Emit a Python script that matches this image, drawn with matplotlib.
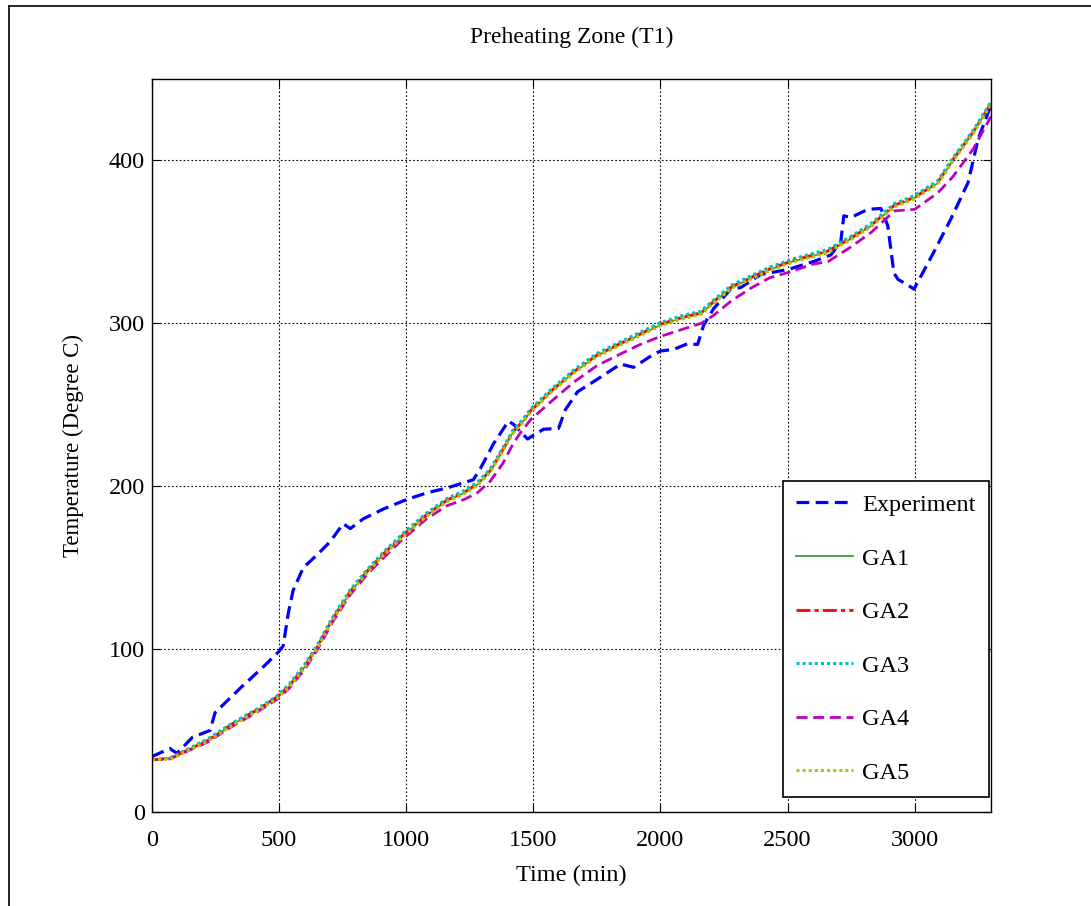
"""
Preheating zone (T1): measured temperature vs. five GA-tuned model runs.
Writes out.png with a non-interactive backend.
"""

import matplotlib

matplotlib.use("Agg")  # headless-safe backend
import matplotlib.pyplot as plt
from matplotlib.lines import Line2D

plt.rcParams.update({
    "font.family": ["Liberation Serif", "DejaVu Serif"],
    "font.size": 17.5,
    "axes.linewidth": 1.0,
})

# measured curve (min, degC)
exp_time = [0, 70, 98, 160, 228, 248, 347, 437, 496, 516, 536, 555, 595, 650, 701, 752,
            780, 831, 910, 1004, 1083, 1162, 1264, 1292, 1343, 1402, 1422, 1477, 1540,
            1599, 1626, 1674, 1745, 1843, 1894, 1973, 2000, 2052, 2107, 2146, 2170, 2209,
            2276, 2316, 2394, 2501, 2603, 2670, 2709, 2721, 2749, 2816, 2867, 2894, 2918,
            2934, 2973, 2997, 3076, 3142, 3210, 3249, 3300]
exp_temp = [34, 39, 36, 46, 50, 61, 76, 89, 98, 102, 122, 136, 150, 158, 166, 177,
            174, 180, 186, 192, 196, 199, 204, 211, 226, 240, 238, 229, 235,
            235.5, 247, 258, 265, 275, 273, 281, 283, 284, 287.5, 287, 299, 309,
            321, 322, 330, 333, 338, 342, 350, 366, 365, 370, 370.5, 360, 331,
            327, 323.5, 321, 344, 364, 386.5, 413, 434]

# simulated runs share one time grid
ga_time = [0, 70, 120, 220, 320, 410, 490, 540, 600, 650, 710, 780, 850, 910, 990, 1080,
           1160, 1230, 1280, 1330, 1380, 1420, 1450, 1490, 1570, 1660, 1750, 1840, 1920,
           2000, 2080, 2160, 2210, 2280, 2360, 2430, 2520, 2590, 2660, 2750, 2830, 2920,
           3000, 3090, 3150, 3230, 3300]
ga1 = [32, 33, 36.5, 44, 54, 62, 70, 77, 89, 101, 118, 135, 148, 158, 170, 182,
       191, 196, 201, 209, 222, 233, 238, 246, 258, 270, 280, 287, 293,
       299, 303, 306, 313, 322, 328, 333, 338, 341, 344, 352, 360, 372,
       377, 386, 400, 417, 435]
ga2 = [32, 33, 36.5, 44, 54.5, 62.5, 70.5, 77.5, 89.5, 101.5, 118.5, 135.5, 148.5, 158.5, 170.5, 182.5,
       191.5, 196.5, 201.5, 209.5, 222.5, 233.5, 238.5, 246.5, 258.5, 270.5, 280.5, 287.5, 293.5,
       299.5, 303.5, 306.5, 313.5, 322.5, 328.5, 333.5, 338.5, 341.5, 344.5, 352.5, 360.5, 372.5,
       377.5, 386.5, 400.5, 417.5, 435]
ga3 = [32, 33, 37, 45, 55, 63, 71, 78.5, 90.5, 102.5, 119.5, 136.5, 149.5, 159.5, 171.5, 183.5,
       192.5, 197.5, 202.5, 210.5, 223.5, 234.5, 239.5, 247.5, 259.5, 271.5, 281.5, 288.5, 294.5,
       300.5, 304.5, 307.5, 314.5, 323.5, 329.5, 334.5, 339.5, 342.5, 345.5, 353.5, 361.5, 373.5,
       378.5, 387.5, 401.5, 418.5, 436]
ga4 = [32, 32.5, 36, 43, 53, 61, 69, 76, 87.5, 99.5, 116.5, 133.5, 146.5, 156, 168, 180,
       188, 192, 196, 203, 214, 226, 233, 241, 252, 264, 274, 281, 287,
       292, 296, 300, 305, 314, 322, 328, 332, 336, 338, 347, 356, 369,
       370, 380, 390, 407, 427]
ga5 = [32, 32.5, 36, 43.5, 53.5, 61.5, 69.5, 76.5, 88.5, 100.5, 117.5, 134.5, 147.5, 157.5, 169.5, 181.5,
       190.5, 195.5, 200.5, 208.5, 221.5, 232.5, 237.5, 245.5, 257.5, 269.5, 279.5, 286.5, 292.5,
       298.5, 302.5, 305.5, 312.5, 321.5, 327.5, 332.5, 337.5, 340.5, 343.5, 351.5, 359.5, 371.5,
       376.5, 385.5, 399.5, 416.5, 434]

fig = plt.figure(figsize=(10.91, 9.06), dpi=100)
ax = fig.add_axes([152 / 1091, 1 - 812 / 906, 839 / 1091, 733 / 906])

ax.plot(exp_time, exp_temp, color="#0000ff", linestyle=(0, (4, 2)), linewidth=2.3, label="Experiment")
ax.plot(ga_time, ga1, color="#3c9a3c", linestyle="-", linewidth=1.3, label="GA1")
ax.plot(ga_time, ga2, color="#ff0000", linestyle=(0, (5, 1.5, 1.5, 1.5)), linewidth=2.0, label="GA2")
ax.plot(ga_time, ga3, color="#00bfbf", linestyle=(0, (1, 1)), linewidth=2.2, label="GA3")
ax.plot(ga_time, ga4, color="#bf00bf", linestyle=(0, (4, 2)), linewidth=2.0, label="GA4")
ax.plot(ga_time, ga5, color="#bfbf00", linestyle=(0, (1, 1)), linewidth=2.2, label="GA5")

ax.set_xlim(0, 3300)
ax.set_ylim(0, 450)
ax.set_xticks([0, 500, 1000, 1500, 2000, 2500, 3000])
ax.set_yticks([0, 100, 200, 300, 400])
ax.tick_params(direction="in", length=6, top=True, right=True)
ax.tick_params(axis="x", pad=13)
ax.tick_params(axis="y", pad=5)
ax.grid(True, color="k", linestyle=(0, (1.5, 2)), linewidth=0.8)

ax.set_title("Preheating Zone (T1)", fontsize=17, pad=26)
ax.set_xlabel("Time (min)", labelpad=10)
ax.set_ylabel("Temperature (Degree C)", fontsize=16.5, labelpad=18)

leg = ax.legend(loc="lower left", bbox_to_anchor=(0.752, 0.020), borderaxespad=0,
                fancybox=False, edgecolor="k", framealpha=1, labelspacing=1.3,
                handlelength=2.35, handletextpad=0.35, borderpad=0.55)
leg.get_frame().set_linewidth(1.2)

# outer figure border (top and left edges are visible)
fig.add_artist(Line2D([9 / 1091, 9 / 1091], [0, 1 - 6 / 906], transform=fig.transFigure, color="k", linewidth=1.2))
fig.add_artist(Line2D([9 / 1091, 1], [1 - 6 / 906, 1 - 6 / 906], transform=fig.transFigure, color="k", linewidth=1.2))

fig.savefig("out.png", dpi=100)
plt.close(fig)
